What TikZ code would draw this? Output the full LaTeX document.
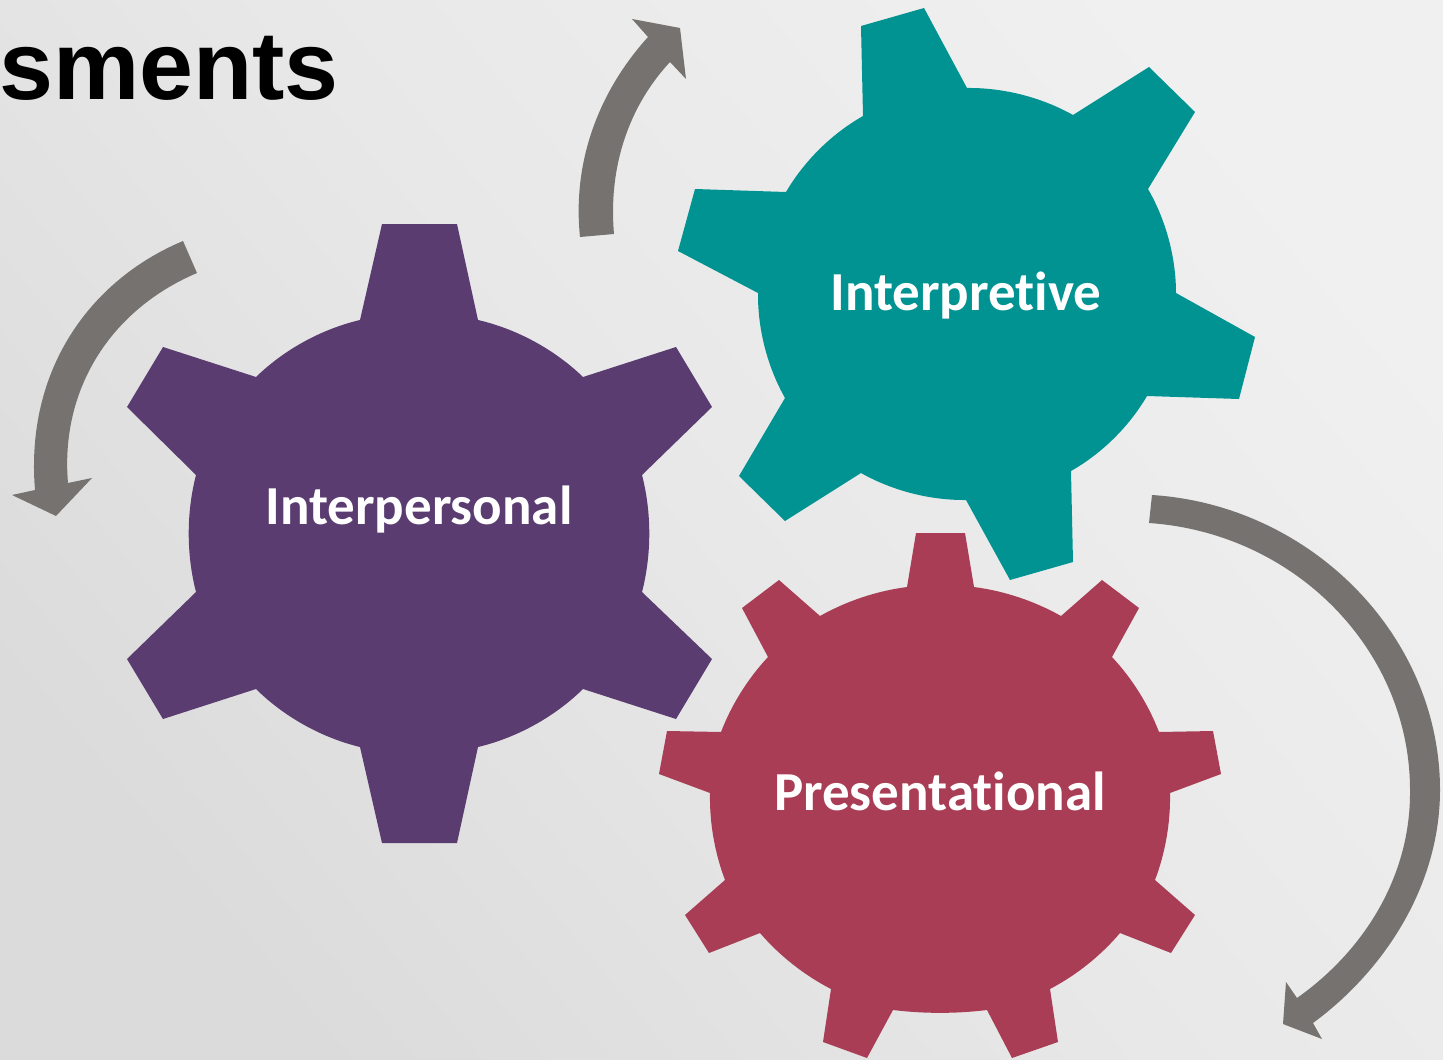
\documentclass[tikz,border=0pt]{standalone}
\usepackage{fontspec}
\setmainfont{Carlito}[Ligatures=NoCommon]
\newfontfamily\titlefont{Liberation Sans}
\usetikzlibrary{calc}
\definecolor{gearpurple}{HTML}{5A3C71}
\definecolor{gearteal}{HTML}{019292}
\definecolor{gearred}{HTML}{A93D55}
\definecolor{arrowgrey}{HTML}{767270}
\tikzset{
	gearlabel/.style={anchor=base,text=white,inner sep=0pt,font=\fontsize{55}{60}\selectfont\bfseries},
	rim/.style={bend left=#1,looseness=0.85}
}
\begin{document}
\begin{tikzpicture}[x=1pt,y=-1pt]
\useasboundingbox (0,0) rectangle (1443,1060);
\clip (0,0) rectangle (1443,1060);

\shade [left color=black!14,right color=black!6,middle color=black!9,shading angle=130] (0,0) rectangle (1443,1060);

\node (title) [anchor=base west,inner sep=0pt,font=\titlefont\fontsize{97}{100}\selectfont\bfseries] at (-1,99) {sments};

\draw [fill=gearpurple,draw=none] (382,224) -- (457,224) -- (478,320) to [rim=15.5] (583,377)
	-- (676,347) -- (712,407) -- (642,475) to [rim=14.5] (642,592)
	-- (712,659) -- (676,719) -- (583,689) to [rim=15.5] (478,747)
	-- (457,843) -- (382,843) -- (360,747) to [rim=15.5] (256,689)
	-- (163,719) -- (127,659) -- (196,592) to [rim=14.5] (196,475)
	-- (127,407) -- (163,347) -- (256,377) to [rim=15.5] (360,320) -- cycle;

\draw [fill=gearteal,draw=none] (861,26) -- (924,8) -- (967,88) to [rim=15] (1073,115)
	-- (1149,67) -- (1195,112) -- (1148,189) to [rim=15] (1176,293)
	-- (1255,337) -- (1239,399) -- (1147,396) to [rim=15] (1071,471)
	-- (1073,562) -- (1010,580) -- (966,500) to [rim=15] (861,473)
	-- (785,521) -- (739,476) -- (785,398) to [rim=15] (758,293)
	-- (678,251) -- (695,189) -- (786,192) to [rim=15] (863,116) -- cycle;

\draw [fill=gearred,draw=none] (916,533) -- (965,533) -- (974,587) to [rim=11] (1061,616)
	-- (1102,580) -- (1139,608) -- (1112,657) to [rim=11] (1159,732)
	-- (1213,731) -- (1221,774) -- (1170,793) to [rim=11] (1155,880)
	-- (1195,915) -- (1171,953) -- (1120,933) to [rim=11] (1050,989)
	-- (1058,1042) -- (1012,1058) -- (987,1010) to [rim=7] (893,1010)
	-- (867,1058) -- (823,1042) -- (831,989) to [rim=11] (760,933)
	-- (709,953) -- (685,915) -- (725,880) to [rim=11] (710,793)
	-- (659,774) -- (667,731) -- (721,732) to [rim=11] (768,657)
	-- (742,608) -- (779,580) -- (820,616) to [rim=11] (907,587) -- cycle;

\node (interpersonal) [gearlabel] at (419,524) {Interpersonal};
\node (interpretive) [gearlabel] at (966,310) {Interpretive};
\node (presentational) [gearlabel] at (940,810) {Presentational};

\fill [arrowgrey] (580,237) .. controls (572,160) and (600,90) .. (648,37)
	-- (632,19) -- (680,28) -- (686,79) -- (670,62)
	.. controls (630,105) and (608,165) .. (614,234) -- cycle;

\fill [arrowgrey] (183,241) .. controls (90,280) and (25,370) .. (35,490)
	-- (12,495) -- (56,516) -- (92,478) -- (68,483)
	.. controls (60,390) and (110,310) .. (197,273) -- cycle;

\fill [arrowgrey] (1152,495) .. controls (1310,505) and (1440,635) .. (1440,790)
	.. controls (1440,885) and (1385,970) .. (1313,1023)
	-- (1322,1039) -- (1283,1024) -- (1286,982) -- (1297,998)
	.. controls (1365,950) and (1411,875) .. (1410,790)
	.. controls (1410,650) and (1295,533) .. (1149,523) -- cycle;
\end{tikzpicture}
\end{document}
